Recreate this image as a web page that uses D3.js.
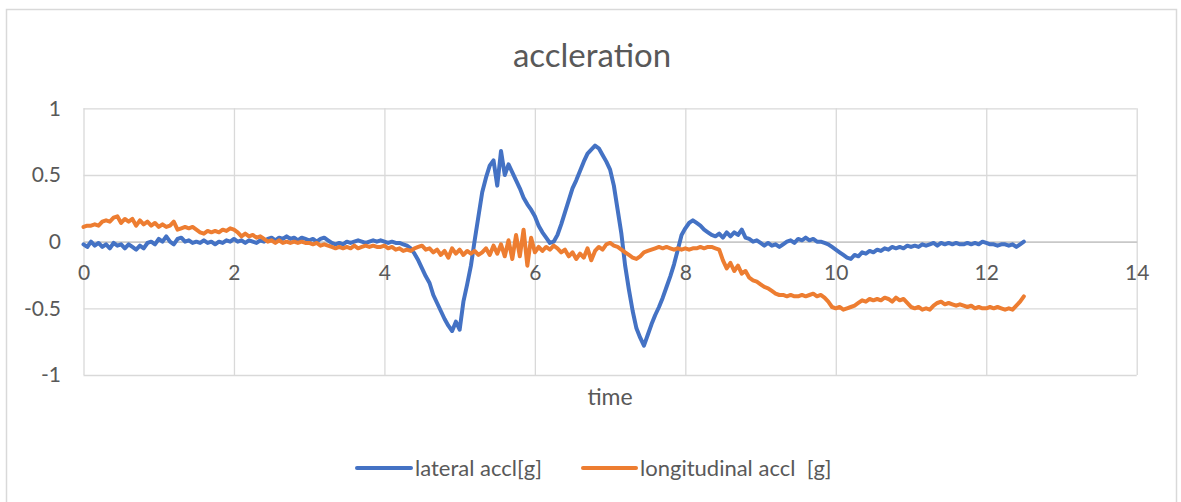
<!DOCTYPE html>
<html>
<head>
<meta charset="utf-8">
<script src="https://cdn.jsdelivr.net/npm/d3@7"></script>
<style>
  html, body { margin: 0; padding: 0; background: #ffffff; }
  svg { display: block; }
</style>
</head>
<body>
<svg id="chart" width="1181" height="502"></svg>
<script>
// ---------------- data ----------------
const chartTitle = "accleration";
const xAxisTitle = "time";
const seriesNames = ["lateral accl[g]", "longitudinal accl  [g]"];
const xTicks = [0, 2, 4, 6, 8, 10, 12, 14];
const yTicks = [-1, -0.5, 0, 0.5, 1];
const sampleInterval = 0.05; // seconds between samples

const lateral = [
  -0.02,-0.04,0.00,-0.03,-0.01,-0.04,-0.02,-0.05,-0.01,-0.03,
  -0.02,-0.05,-0.02,-0.04,-0.06,-0.03,-0.05,-0.01,0.00,-0.02,
  0.02,0.00,0.04,0.00,-0.02,0.02,0.03,0.00,0.01,-0.01,
  0.00,-0.01,0.01,-0.01,0.00,-0.02,0.00,-0.01,0.01,0.00,
  0.02,0.00,0.01,-0.01,0.01,0.00,-0.01,0.01,0.00,0.02,
  0.03,0.01,0.03,0.02,0.04,0.02,0.03,0.01,0.03,0.02,
  0.01,0.02,0.00,0.02,0.03,0.01,-0.01,-0.02,-0.01,-0.02,
  0.00,-0.01,0.00,0.01,0.00,-0.01,0.00,0.01,0.00,0.01,
  0.00,-0.01,0.00,-0.01,-0.01,-0.02,-0.03,-0.05,-0.09,-0.14,
  -0.20,-0.26,-0.31,-0.40,-0.46,-0.52,-0.58,-0.63,-0.67,-0.60,
  -0.66,-0.45,-0.32,-0.18,0.01,0.19,0.37,0.48,0.57,0.61,
  0.42,0.68,0.50,0.58,0.52,0.46,0.40,0.33,0.28,0.24,
  0.19,0.12,0.07,0.03,-0.01,0.00,0.05,0.13,0.22,0.31,
  0.40,0.46,0.53,0.60,0.66,0.69,0.72,0.70,0.65,0.60,
  0.54,0.42,0.24,0.06,-0.18,-0.36,-0.52,-0.65,-0.72,-0.78,
  -0.70,-0.62,-0.55,-0.49,-0.42,-0.34,-0.26,-0.17,-0.06,0.05,
  0.10,0.14,0.16,0.14,0.12,0.09,0.07,0.05,0.04,0.06,
  0.03,0.07,0.04,0.07,0.05,0.09,0.03,0.02,0.00,0.01,
  -0.01,-0.03,-0.01,-0.03,-0.02,-0.04,-0.02,0.00,0.01,-0.01,
  0.02,0.01,0.03,0.01,0.02,0.00,0.00,-0.01,-0.02,-0.04,
  -0.06,-0.08,-0.10,-0.12,-0.13,-0.10,-0.11,-0.08,-0.09,-0.07,
  -0.08,-0.06,-0.07,-0.05,-0.06,-0.04,-0.05,-0.04,-0.05,-0.03,
  -0.04,-0.03,-0.04,-0.02,-0.03,-0.02,-0.01,-0.03,-0.01,-0.02,
  -0.01,-0.02,-0.01,-0.02,-0.02,-0.01,-0.02,-0.01,-0.02,0.00,
  -0.01,-0.02,-0.02,-0.03,-0.02,-0.02,-0.03,-0.02,-0.04,-0.02,
  0.00
];

const longitudinal = [
  0.11,0.12,0.12,0.13,0.12,0.15,0.16,0.15,0.18,0.19,
  0.14,0.17,0.15,0.17,0.12,0.16,0.13,0.15,0.12,0.14,
  0.11,0.13,0.11,0.12,0.15,0.09,0.10,0.11,0.10,0.11,
  0.09,0.07,0.06,0.08,0.07,0.08,0.07,0.09,0.08,0.10,
  0.09,0.07,0.04,0.06,0.04,0.05,0.03,0.04,0.02,0.00,
  0.01,-0.01,0.01,-0.01,0.00,-0.01,0.00,-0.01,0.00,-0.01,
  -0.01,-0.02,-0.01,-0.03,-0.02,-0.03,-0.04,-0.05,-0.04,-0.05,
  -0.04,-0.05,-0.03,-0.05,-0.04,-0.03,-0.04,-0.03,-0.04,-0.04,
  -0.03,-0.05,-0.04,-0.06,-0.05,-0.07,-0.06,-0.07,-0.05,-0.04,
  -0.03,-0.06,-0.05,-0.08,-0.06,-0.10,-0.07,-0.12,-0.05,-0.09,
  -0.06,-0.10,-0.07,-0.09,-0.07,-0.10,-0.08,-0.05,-0.10,-0.03,
  -0.09,-0.02,-0.11,0.01,-0.13,0.05,-0.11,0.09,-0.18,0.03,
  -0.08,-0.04,-0.07,-0.04,-0.06,-0.03,-0.05,-0.08,-0.06,-0.11,
  -0.08,-0.13,-0.09,-0.12,-0.05,-0.14,-0.07,-0.04,-0.06,-0.02,
  -0.01,-0.03,-0.04,-0.06,-0.08,-0.10,-0.12,-0.13,-0.11,-0.08,
  -0.07,-0.06,-0.05,-0.04,-0.05,-0.04,-0.05,-0.06,-0.05,-0.06,
  -0.05,-0.06,-0.05,-0.05,-0.04,-0.05,-0.04,-0.04,-0.05,-0.06,
  -0.14,-0.20,-0.16,-0.22,-0.18,-0.24,-0.22,-0.27,-0.29,-0.30,
  -0.32,-0.34,-0.35,-0.37,-0.39,-0.40,-0.40,-0.41,-0.40,-0.41,
  -0.41,-0.40,-0.41,-0.40,-0.39,-0.41,-0.40,-0.42,-0.45,-0.49,
  -0.50,-0.49,-0.51,-0.50,-0.49,-0.48,-0.46,-0.44,-0.45,-0.43,
  -0.44,-0.43,-0.44,-0.42,-0.43,-0.45,-0.42,-0.44,-0.43,-0.46,
  -0.49,-0.50,-0.49,-0.51,-0.50,-0.51,-0.48,-0.46,-0.45,-0.47,
  -0.46,-0.47,-0.48,-0.47,-0.48,-0.49,-0.48,-0.50,-0.49,-0.50,
  -0.50,-0.49,-0.50,-0.49,-0.50,-0.51,-0.50,-0.51,-0.48,-0.45,
  -0.41
];

const seriesColors = ["#4472C4", "#ED7D31"];

// ---------------- layout ----------------
const font = "Lato, 'Open Sans', sans-serif";
const textColor = "#595959";
const gridColor = "#D9D9D9";
const plot = { left: 83.5, right: 1136.7, top: 108.3, bottom: 375 };

const svg = d3.select("#chart");

// outer chart border
svg.append("rect")
  .attr("x", 6.5).attr("y", 9.5)
  .attr("width", 1170).attr("height", 520)
  .attr("fill", "#ffffff")
  .attr("stroke", gridColor).attr("stroke-width", 1.5);

const x = d3.scaleLinear().domain([xTicks[0], xTicks[xTicks.length - 1]]).range([plot.left, plot.right]);
const y = d3.scaleLinear().domain([yTicks[0], yTicks[yTicks.length - 1]]).range([plot.bottom, plot.top]);

// horizontal gridlines + y labels
const yAxis = svg.append("g")
  .attr("transform", `translate(${plot.left},0)`)
  .call(d3.axisLeft(y).tickValues(yTicks).tickSize(-(plot.right - plot.left))
    .tickFormat(d => String(d)));
yAxis.select(".domain").remove();
yAxis.selectAll(".tick line").attr("stroke", gridColor).attr("stroke-width", 1.3);
yAxis.selectAll(".tick text")
  .attr("fill", textColor).attr("font-family", font).attr("font-size", 21)
  .attr("x", 61 - plot.left).attr("text-anchor", "end");

// vertical gridlines
const xGrid = svg.append("g")
  .attr("transform", `translate(0,${plot.bottom})`)
  .call(d3.axisBottom(x).tickValues(xTicks).tickSize(-(plot.bottom - plot.top)).tickFormat(""));
xGrid.select(".domain").remove();
xGrid.selectAll(".tick line").attr("stroke", gridColor).attr("stroke-width", 1.3);

// x axis at y = 0 with labels below
const xAxis = svg.append("g")
  .attr("transform", `translate(0,${y(0)})`)
  .call(d3.axisBottom(x).tickValues(xTicks).tickSize(0).tickPadding(23).tickFormat(d => String(d)));
xAxis.select(".domain").attr("stroke", "#BFBFBF").attr("stroke-width", 1.3);
xAxis.selectAll(".tick text")
  .attr("fill", textColor).attr("font-family", font).attr("font-size", 21);

// lines
const seriesData = [lateral, longitudinal];
const line = d3.line()
  .x((d, i) => x(i * sampleInterval))
  .y(d => y(d));
seriesData.forEach((vals, k) => {
  svg.append("path")
    .datum(vals)
    .attr("fill", "none")
    .attr("stroke", seriesColors[k])
    .attr("stroke-width", 4)
    .attr("stroke-linejoin", "round")
    .attr("stroke-linecap", "round")
    .attr("d", line);
});

// title
svg.append("text")
  .attr("x", 592).attr("y", 67)
  .attr("text-anchor", "middle")
  .attr("font-family", font).attr("font-size", 33).attr("font-weight", 400)
  .attr("fill", textColor)
  .text(chartTitle);

// x axis title
svg.append("text")
  .attr("x", 610).attr("y", 405)
  .attr("text-anchor", "middle")
  .attr("font-family", font).attr("font-size", 23)
  .attr("fill", textColor)
  .text(xAxisTitle);

// legend
const legendItems = [
  { x0: 357, x1: 411, tx: 415 },
  { x0: 583, x1: 636, tx: 640 }
];
const legend = svg.append("g");
seriesNames.forEach((name, k) => {
  const it = legendItems[k];
  legend.append("line")
    .attr("x1", it.x0).attr("x2", it.x1)
    .attr("y1", 468).attr("y2", 468)
    .attr("stroke", seriesColors[k]).attr("stroke-width", 4)
    .attr("stroke-linecap", "round");
  legend.append("text")
    .attr("x", it.tx).attr("y", 468)
    .attr("dy", "0.35em")
    .attr("font-family", font).attr("font-size", 22)
    .attr("fill", textColor)
    .attr("xml:space", "preserve")
    .style("white-space", "pre")
    .text(name);
});
</script>
</body>
</html>
